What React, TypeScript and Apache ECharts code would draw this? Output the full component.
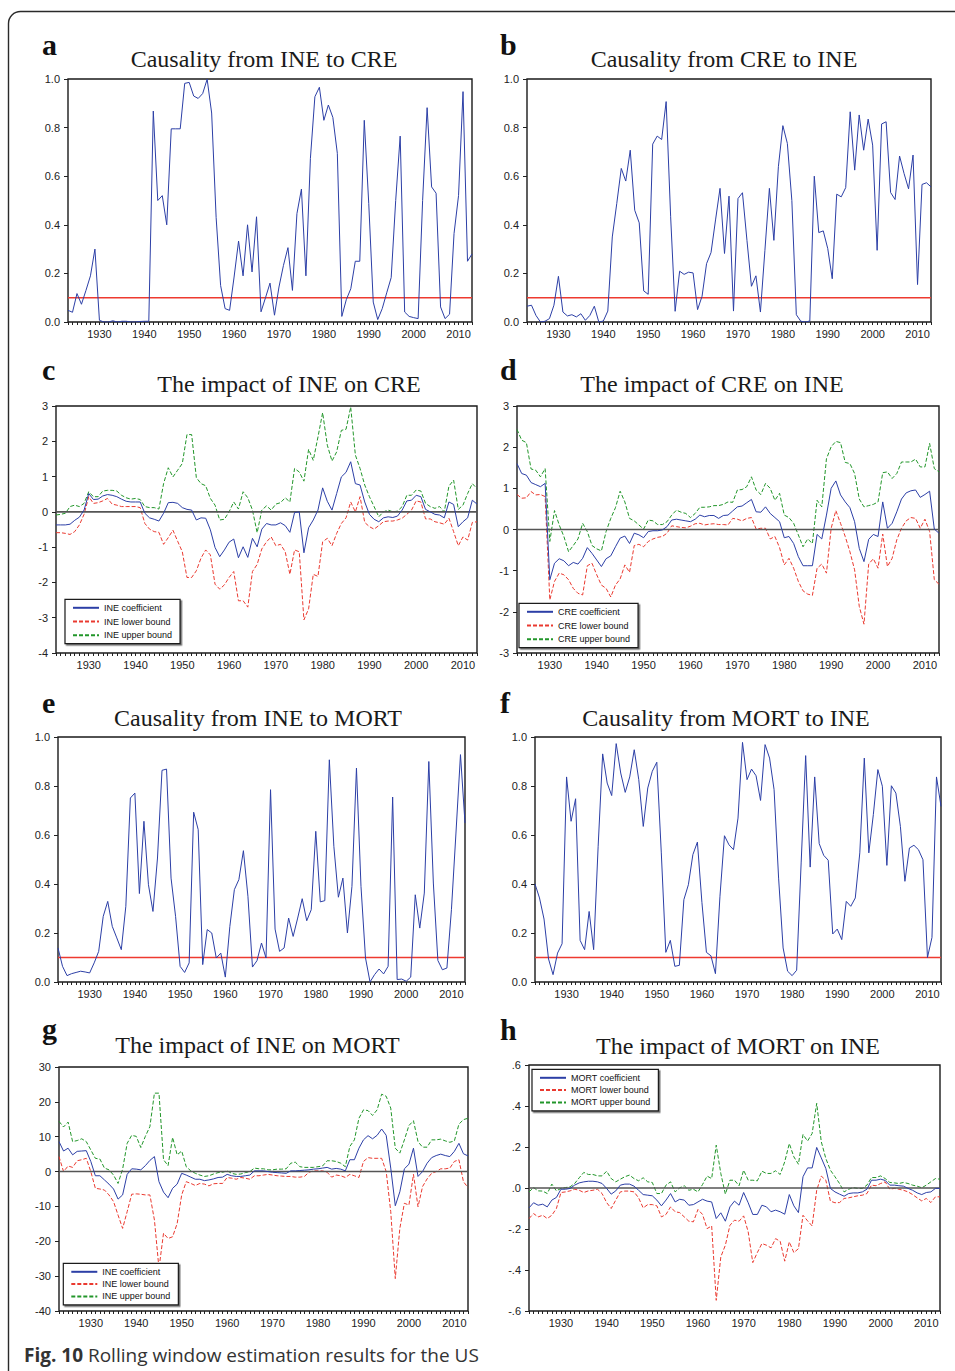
import { useEffect, useRef } from 'react';
import * as echarts from 'echarts';

const YEARS = [
  1923, 1924, 1925, 1926, 1927, 1928, 1929,
  1930, 1931, 1932, 1933, 1934, 1935, 1936, 1937, 1938, 1939,
  1940, 1941, 1942, 1943, 1944, 1945, 1946, 1947, 1948, 1949,
  1950, 1951, 1952, 1953, 1954, 1955, 1956, 1957, 1958, 1959,
  1960, 1961, 1962, 1963, 1964, 1965, 1966, 1967, 1968, 1969,
  1970, 1971, 1972, 1973, 1974, 1975, 1976, 1977, 1978, 1979,
  1980, 1981, 1982, 1983, 1984, 1985, 1986, 1987, 1988, 1989,
  1990, 1991, 1992, 1993, 1994, 1995, 1996, 1997, 1998, 1999,
  2000, 2001, 2002, 2003, 2004, 2005, 2006, 2007, 2008, 2009,
  2010, 2011, 2012, 2013,
].map(String);

// a: p-values, causality from INE to CRE
const A_INE_TO_CRE = [
  0.048, 0.04, 0.117, 0.073, 0.13, 0.19, 0.30,
  0.007, 0.0, 0.0, 0.005, 0.0, 0.003, 0.003, 0.0, 0.0, 0.002,
  0.003, 0.003, 0.868, 0.50, 0.52, 0.40, 0.795, 0.795, 0.795, 0.982,
  0.986, 0.93, 0.92, 0.94, 0.999, 0.86, 0.43, 0.15, 0.055, 0.048,
  0.185, 0.333, 0.19, 0.40, 0.206, 0.433, 0.042, 0.10, 0.16, 0.028,
  0.144, 0.233, 0.306, 0.13, 0.446, 0.547, 0.19, 0.673, 0.927, 0.966,
  0.83, 0.893, 0.842, 0.694, 0.023, 0.092, 0.137, 0.25, 0.25, 0.83,
  0.487, 0.082, 0.01, 0.055, 0.12, 0.183, 0.50, 0.765, 0.041, 0.023,
  0.018, 0.014, 0.50, 0.882, 0.556, 0.53, 0.062, 0.014, 0.032, 0.364,
  0.52, 0.948, 0.25, 0.28,
];

// b: p-values, causality from CRE to INE
const B_CRE_TO_INE = [
  0.065, 0.069, 0.027, 0.0, 0.003, 0.014, 0.069,
  0.188, 0.041, 0.025, 0.03, 0.021, 0.034, 0.007, 0.027, 0.065, 0.0,
  0.004, 0.045, 0.35, 0.488, 0.632, 0.58, 0.707, 0.46, 0.408, 0.128,
  0.114, 0.732, 0.765, 0.751, 0.907, 0.433, 0.044, 0.209, 0.196, 0.205,
  0.202, 0.051, 0.106, 0.24, 0.286, 0.42, 0.55, 0.282, 0.518, 0.045,
  0.508, 0.532, 0.336, 0.147, 0.19, 0.041, 0.295, 0.55, 0.336, 0.639,
  0.808, 0.735, 0.50, 0.03, 0.003, 0.0, 0.004, 0.60, 0.368, 0.375,
  0.302, 0.178, 0.526, 0.515, 0.553, 0.865, 0.625, 0.852, 0.707, 0.835,
  0.728, 0.295, 0.815, 0.824, 0.533, 0.504, 0.683, 0.611, 0.548, 0.687,
  0.154, 0.566, 0.573, 0.556,
];

// c: impact of INE on CRE
const C_COEF = [
  -0.37, -0.37, -0.37, -0.35, -0.24, -0.15, 0.05,
  0.52, 0.35, 0.36, 0.45, 0.49, 0.47, 0.43, 0.36, 0.30, 0.28,
  0.28, 0.28, -0.04, -0.17, -0.21, -0.26, -0.04, 0.26, 0.27, 0.24,
  0.12, 0.07, 0.05, -0.23, -0.17, -0.18, -0.51, -1.01, -1.27, -1.08,
  -0.86, -0.77, -1.30, -0.99, -1.29, -0.75, -0.99, -0.49, -0.33, -0.37,
  -0.37, -0.31, -0.39, -0.58, -0.02, 0.0, -1.16, -0.45, -0.23, 0.05,
  0.68, 0.30, 0.05, 0.52, 0.99, 1.12, 1.42, 0.80, 0.76, 0.28,
  -0.07, -0.21, -0.28, -0.17, -0.14, -0.16, -0.12, 0.05, 0.31, 0.33,
  0.47, 0.43, 0.07, 0.0, -0.07, -0.09, -0.17, 0.28, 0.21, -0.42,
  -0.28, -0.17, 0.33, 0.22,
];
const C_LOWER = [
  -0.59, -0.59, -0.61, -0.64, -0.56, -0.37, -0.07,
  0.43, 0.24, 0.26, 0.31, 0.38, 0.22, 0.19, 0.15, 0.15, 0.15,
  0.15, 0.12, -0.33, -0.49, -0.56, -0.58, -0.92, -0.73, -0.52, -0.83,
  -1.13, -1.86, -1.86, -1.67, -1.31, -1.08, -1.22, -2.05, -2.19, -2.07,
  -1.86, -1.69, -2.52, -2.52, -2.70, -1.69, -1.49, -1.05, -0.85, -0.71,
  -0.96, -0.92, -1.13, -1.77, -1.08, -1.13, -3.06, -2.75, -1.77, -1.83,
  -0.85, -0.75, -0.96, -0.61, -0.33, -0.17, 0.28, 0.0, 0.43, -0.30,
  -0.42, -0.49, -0.39, -0.28, -0.26, -0.26, -0.23, -0.18, -0.07, 0.05,
  0.31, 0.28, -0.20, -0.20, -0.28, -0.31, -0.35, -0.18, -0.56, -0.96,
  -0.71, -0.80, -0.30, -0.28,
];
const C_UPPER = [
  -0.09, -0.07, -0.04, 0.15, 0.19, 0.15, 0.24,
  0.57, 0.43, 0.43, 0.59, 0.61, 0.61, 0.59, 0.47, 0.40, 0.36,
  0.38, 0.35, 0.15, 0.12, 0.12, 0.08, 0.80, 1.25, 0.99, 1.18,
  1.37, 2.19, 2.19, 0.97, 0.80, 0.74, 0.38, 0.19, -0.23, -0.21,
  0.0, 0.28, 0.08, 0.57, 0.40, 0.05, -0.59, 0.05, 0.17, 0.05,
  0.22, 0.26, 0.40, 0.28, 1.23, 1.13, 0.87, 1.77, 1.46, 2.12,
  2.81, 1.89, 1.44, 1.70, 2.31, 2.34, 2.97, 1.61, 1.23, 0.76,
  0.43, 0.15, -0.14, 0.0, 0.05, 0.0, 0.02, 0.15, 0.47, 0.47,
  0.62, 0.59, 0.24, 0.15, 0.10, 0.15, 0.0, 0.73, 0.90, 0.07,
  0.19, 0.52, 0.80, 0.66,
];

// d: impact of CRE on INE
const D_COEF = [
  1.60, 1.36, 1.32, 1.14, 1.09, 1.04, 1.12,
  -1.22, -0.82, -0.71, -0.76, -0.88, -0.80, -0.84, -0.70, -0.44, -0.58,
  -0.74, -0.90, -0.71, -0.64, -0.42, -0.21, -0.16, -0.34, -0.09, -0.13,
  -0.20, -0.05, -0.03, -0.03, -0.01, 0.07, 0.23, 0.25, 0.23, 0.21,
  0.19, 0.25, 0.35, 0.31, 0.34, 0.34, 0.27, 0.34, 0.35, 0.45,
  0.55, 0.57, 0.65, 0.73, 0.43, 0.42, 0.55, 0.39, 0.29, 0.19,
  -0.20, -0.17, -0.34, -0.66, -0.88, -0.88, -0.88, -0.12, -0.23, 0.35,
  1.00, 1.18, 0.84, 0.67, 0.53, 0.19, -0.46, -0.78, -0.24, -0.12,
  -0.17, 0.67, 0.03, 0.15, 0.43, 0.74, 0.89, 0.94, 0.96, 0.78,
  0.85, 0.93, 0.01, -0.09,
];
const D_LOWER = [
  0.85, 0.76, 0.77, 0.92, 0.84, 0.85, 0.80,
  -1.71, -1.26, -1.06, -1.10, -1.22, -1.43, -1.55, -1.59, -0.88, -0.82,
  -1.10, -1.35, -1.43, -1.64, -1.35, -1.20, -0.86, -1.04, -0.39, -0.36,
  -0.42, -0.29, -0.23, -0.19, -0.17, -0.09, 0.09, 0.07, 0.05, 0.04,
  0.08, 0.14, 0.15, 0.11, 0.13, 0.14, 0.12, 0.12, 0.11, 0.27,
  0.25, 0.21, 0.27, 0.29, 0.01, 0.03, 0.03, -0.23, -0.17, -0.44,
  -0.86, -0.70, -0.94, -1.26, -1.49, -1.57, -1.60, -0.94, -0.84, -1.06,
  0.03, 0.46, 0.15, -0.17, -0.54, -0.98, -1.87, -2.30, -0.84, -0.71,
  -0.94, -0.11, -0.90, -0.70, -0.25, 0.03, 0.21, 0.29, 0.27, 0.03,
  0.25, -0.05, -1.22, -1.33,
];
const D_UPPER = [
  2.43, 2.17, 2.11, 1.47, 1.44, 1.28, 1.48,
  -0.29, 0.46, 0.11, -0.17, -0.54, -0.39, -0.23, 0.15, -0.05, -0.39,
  -0.47, -0.52, -0.05, 0.27, 0.53, 0.93, 0.67, 0.27, 0.21, 0.11,
  0.01, 0.23, 0.21, 0.12, 0.12, 0.19, 0.35, 0.47, 0.42, 0.39,
  0.29, 0.39, 0.54, 0.54, 0.55, 0.58, 0.58, 0.61, 0.67, 0.66,
  0.96, 0.97, 1.04, 1.28, 0.96, 0.85, 1.12, 1.00, 0.71, 0.88,
  0.35, 0.29, 0.15, -0.13, -0.42, -0.23, -0.34, 0.71, 0.55, 1.72,
  2.01, 2.14, 2.11, 1.63, 1.60, 1.36, 0.74, 0.55, 0.58, 0.61,
  0.67, 1.38, 1.40, 1.24, 1.36, 1.64, 1.64, 1.64, 1.71, 1.52,
  1.52, 2.09, 1.48, 1.40,
];

// e: p-values, causality from INE to MORT
const E_INE_TO_MORT = [
  0.139, 0.064, 0.026, 0.034, 0.039, 0.044, 0.041,
  0.037, 0.078, 0.125, 0.268, 0.329, 0.227, 0.18, 0.132, 0.309, 0.751,
  0.771, 0.361, 0.656, 0.397, 0.288, 0.506, 0.864, 0.869, 0.424, 0.268,
  0.064, 0.039, 0.078, 0.693, 0.622, 0.071, 0.214, 0.20, 0.098, 0.118,
  0.02, 0.227, 0.377, 0.418, 0.536, 0.35, 0.061, 0.087, 0.159, 0.098,
  0.785, 0.216, 0.125, 0.139, 0.261, 0.186, 0.261, 0.34, 0.25, 0.295,
  0.615, 0.327, 0.332, 0.907, 0.554, 0.346, 0.424, 0.20, 0.39, 0.873,
  0.39, 0.098, 0.0, 0.03, 0.053, 0.033, 0.064, 0.755, 0.01, 0.012,
  0.003, 0.02, 0.356, 0.22, 0.363, 0.90, 0.404, 0.088, 0.05, 0.057,
  0.295, 0.608, 0.928, 0.649,
];

// f: p-values, causality from MORT to INE
const F_MORT_TO_INE = [
  0.40, 0.343, 0.257, 0.094, 0.03, 0.118, 0.156,
  0.837, 0.656, 0.748, 0.17, 0.132, 0.288, 0.132, 0.554, 0.931, 0.812,
  0.761, 0.973, 0.853, 0.774, 0.837, 0.948, 0.826, 0.635, 0.792, 0.86,
  0.897, 0.527, 0.121, 0.17, 0.064, 0.068, 0.336, 0.397, 0.52, 0.571,
  0.325, 0.121, 0.107, 0.034, 0.35, 0.597, 0.56, 0.54, 0.669, 0.978,
  0.826, 0.869, 0.842, 0.741, 0.969, 0.914, 0.785, 0.424, 0.139, 0.044,
  0.026, 0.048, 0.486, 0.924, 0.469, 0.837, 0.565, 0.517, 0.497, 0.196,
  0.216, 0.173, 0.329, 0.309, 0.343, 0.527, 0.914, 0.527, 0.683, 0.867,
  0.799, 0.476, 0.801, 0.771, 0.635, 0.411, 0.547, 0.558, 0.54, 0.499,
  0.10, 0.182, 0.837, 0.717,
];

// g: impact of INE on MORT
const G_COEF = [
  8.6, 5.9, 6.7, 4.8, 5.8, 5.9, 6.0,
  2.9, -1.2, -1.2, -2.4, -3.6, -5.0, -7.9, -6.7, -0.8, 0.8,
  0.7, 0.5, 1.7, 3.2, 4.3, -2.9, -5.9, -7.5, -4.8, -3.6,
  -0.5, -1.0, -1.6, -2.2, -2.2, -2.6, -2.4, -2.1, -1.7, -1.6,
  -0.8, -1.2, -1.4, -1.4, -1.2, -1.0, 0.2, 0.2, 0.2, 0.0,
  -0.2, -0.3, -0.4, -0.5, 0.2, 0.2, 0.3, 0.4, 0.5, 0.7,
  0.8, 1.0, 1.2, 0.7, 0.9, 0.7, 0.2, 3.4, 3.4, 6.7,
  9.1, 10.3, 9.4, 10.4, 12.2, 10.4, 1.0, -9.8, -5.8, 0.8,
  2.1, 6.7, -1.4, 0.0, 2.4, 4.0, 4.6, 5.0, 4.6, 4.3,
  5.8, 8.1, 5.1, 4.5,
];
const G_LOWER = [
  4.3, 0.0, 1.6, 1.2, 3.1, 3.4, 3.8,
  0.0, -4.8, -5.0, -5.3, -6.7, -8.6, -12.5, -16.3, -11.5, -6.5,
  -6.4, -6.5, -6.7, -6.7, -13.9, -27.8, -17.7, -19.2, -18.7, -14.9,
  -6.7, -2.9, -3.4, -4.0, -3.4, -3.6, -4.1, -3.5, -3.4, -3.4,
  -1.7, -1.9, -2.2, -1.7, -1.9, -2.2, -1.2, -1.2, -1.0, -0.8,
  -1.0, -1.2, -1.3, -1.4, -1.4, -1.6, -1.6, -1.4, -0.2, 0.2,
  0.2, 0.2, -0.2, -1.6, -1.0, -1.2, -1.7, -0.8, -1.2, -1.7,
  2.9, 4.0, 3.8, 3.8, 3.8, 0.0, -11.5, -30.7, -16.3, -9.1,
  -9.6, -0.8, -10.1, -4.3, -2.1, -0.5, 0.0, 0.8, 0.8, 1.0,
  2.9, 3.4, -2.9, -4.6,
];
const G_UPPER = [
  14.4, 12.8, 14.2, 8.6, 8.9, 9.4, 8.6,
  6.2, 3.8, 3.6, 1.0, 0.5, -1.0, -3.4, 0.7, 8.1, 10.4,
  10.1, 6.9, 10.1, 12.9, 22.5, 22.5, 3.4, 1.7, 9.8, 4.8,
  5.9, 1.4, 0.2, -0.5, -1.0, -1.4, -1.2, -0.7, -0.3, -0.2,
  0.2, -0.5, -0.8, -0.7, -0.3, 0.0, 1.0, 0.8, 0.8, 0.5,
  0.5, 0.7, 0.7, 0.8, 2.4, 2.7, 1.4, 1.2, 1.2, 1.2,
  1.4, 1.6, 3.1, 3.1, 2.9, 2.4, 1.4, 7.2, 9.1, 15.3,
  17.7, 17.5, 16.1, 17.7, 22.2, 21.6, 18.2, 6.7, 5.3, 9.1,
  13.2, 14.6, 8.6, 7.0, 7.0, 9.1, 9.1, 9.3, 8.8, 8.4,
  8.8, 13.6, 14.9, 15.3,
];

// h: impact of MORT on INE
const H_COEF = [
  -0.097, -0.072, -0.084, -0.079, -0.092, -0.059, -0.046,
  -0.006, -0.006, -0.002, 0.014, 0.025, 0.03, 0.033, 0.033, 0.03, 0.022,
  -0.002, -0.03, -0.014, 0.014, 0.019, 0.019, 0.009, -0.011, -0.032, -0.035,
  -0.038, -0.059, -0.087, -0.059, -0.027, -0.068, -0.055, -0.059, -0.084, -0.081,
  -0.068, -0.055, -0.064, -0.068, -0.149, -0.121, -0.162, -0.092, -0.064, -0.084,
  -0.022, -0.072, -0.129, -0.129, -0.084, -0.092, -0.116, -0.108, -0.116, -0.128,
  -0.032, -0.087, -0.12, 0.055, 0.098, 0.098, 0.198, 0.147, 0.095, -0.002,
  -0.019, -0.03, -0.04, -0.027, -0.024, -0.024, -0.019, -0.006, 0.038, 0.038,
  0.043, 0.037, 0.014, 0.014, 0.011, 0.009, -0.002, -0.011, -0.024, -0.032,
  -0.022, -0.019, -0.002, -0.002,
];
const H_LOWER = [
  -0.149, -0.125, -0.141, -0.133, -0.149, -0.133, -0.1,
  -0.022, -0.019, -0.014, -0.006, -0.011, -0.022, -0.014, -0.011, -0.006, -0.027,
  -0.071, -0.1, -0.059, -0.019, -0.015, -0.015, -0.019, -0.048, -0.097, -0.081,
  -0.081, -0.087, -0.141, -0.129, -0.092, -0.116, -0.12, -0.141, -0.162, -0.165,
  -0.105, -0.129, -0.198, -0.185, -0.548, -0.336, -0.279, -0.182, -0.157, -0.162,
  -0.136, -0.214, -0.364, -0.315, -0.271, -0.279, -0.292, -0.247, -0.26, -0.357,
  -0.263, -0.315, -0.296, -0.133, -0.16, -0.185, -0.011, 0.058, 0.038, -0.064,
  -0.072, -0.071, -0.051, -0.048, -0.043, -0.038, -0.035, -0.027, 0.014, 0.011,
  0.022, 0.03, -0.006, -0.002, -0.006, -0.011, -0.019, -0.032, -0.048, -0.063,
  -0.051, -0.071, -0.043, -0.043,
];
const H_UPPER = [
  -0.019, 0.002, -0.014, -0.015, -0.027, 0.019, -0.014,
  -0.002, 0.002, 0.006, 0.022, 0.05, 0.076, 0.066, 0.066, 0.059, 0.059,
  0.082, 0.046, 0.03, 0.043, 0.055, 0.063, 0.046, 0.035, 0.05, 0.03,
  0.027, -0.027, -0.027, 0.014, 0.03, -0.019, 0.001, 0.011, -0.011, -0.006,
  -0.019, 0.017, 0.058, 0.046, 0.209, 0.071, -0.03, 0.038, 0.038, 0.011,
  0.087, 0.038, 0.038, 0.035, 0.082, 0.071, 0.071, 0.084, 0.066, 0.128,
  0.217, 0.152, 0.116, 0.261, 0.229, 0.266, 0.413, 0.226, 0.144, 0.087,
  0.055, 0.022, -0.019, -0.006, 0.002, -0.002, -0.002, 0.014, 0.051, 0.051,
  0.059, 0.046, 0.027, 0.025, 0.022, 0.027, 0.022, 0.014, 0.009, 0.001,
  0.014, 0.03, 0.046, 0.043,
];

const THRESHOLD = 0.1;
const ZERO = 0;

const BLUE = '#2c3fa6';
const RED = '#ea3a30';
const GREEN = '#22962a';
const THRESH_RED = '#ee3a30';
const ZERO_GRAY = '#555555';
const SANS = '"Liberation Sans", Arial, sans-serif';
const SERIF = '"Liberation Serif", "Times New Roman", serif';

const fmt1 = (v: number) => v.toFixed(1);
const fmtInt = (v: number) => String(Math.round(v));
const fmtDot = (v: number) => {
  const s = (Math.round(v * 10) / 10).toFixed(1);
  return s.replace('0.', '.');
};

type Panel = {
  letter: string;
  title: string;
  kind: 'pvalue' | 'impact';
  variable?: string;
  values: number[][];
  yMin: number;
  yMax: number;
  yStep: number;
  fmt: (v: number) => string;
  grid: { left: number; top: number; width: number; height: number };
  titleX: number;
  titleY: number;
  letterX: number;
  letterY: number;
  legend?: { left: number; top: number; gap: number };
};

const PANELS: Panel[] = [
  {
    letter: 'a', title: 'Causality from INE to CRE', kind: 'pvalue', values: [A_INE_TO_CRE],
    yMin: 0, yMax: 1, yStep: 0.2, fmt: fmt1,
    grid: { left: 68, top: 79, width: 404, height: 243 },
    titleX: 264, titleY: 58.6, letterX: 42, letterY: 44.9,
  },
  {
    letter: 'b', title: 'Causality from CRE to INE', kind: 'pvalue', values: [B_CRE_TO_INE],
    yMin: 0, yMax: 1, yStep: 0.2, fmt: fmt1,
    grid: { left: 527, top: 79, width: 404, height: 243 },
    titleX: 724, titleY: 58.6, letterX: 500, letterY: 44.9,
  },
  {
    letter: 'c', title: 'The impact of INE on CRE', kind: 'impact', variable: 'INE',
    values: [C_COEF, C_LOWER, C_UPPER],
    yMin: -4, yMax: 3, yStep: 1, fmt: fmtInt,
    grid: { left: 56, top: 406, width: 421, height: 247 },
    titleX: 289, titleY: 384.2, letterX: 42, letterY: 369.9,
    legend: { left: 65, top: 599.3, gap: 4.7 },
  },
  {
    letter: 'd', title: 'The impact of CRE on INE', kind: 'impact', variable: 'CRE',
    values: [D_COEF, D_LOWER, D_UPPER],
    yMin: -3, yMax: 3, yStep: 1, fmt: fmtInt,
    grid: { left: 517, top: 406, width: 422, height: 247 },
    titleX: 712, titleY: 384.2, letterX: 500, letterY: 369.9,
    legend: { left: 519, top: 603.3, gap: 4.7 },
  },
  {
    letter: 'e', title: 'Causality from INE to MORT', kind: 'pvalue', values: [E_INE_TO_MORT],
    yMin: 0, yMax: 1, yStep: 0.2, fmt: fmt1,
    grid: { left: 58, top: 737, width: 407, height: 245 },
    titleX: 258, titleY: 717.6, letterX: 42, letterY: 702.9,
  },
  {
    letter: 'f', title: 'Causality from MORT to INE', kind: 'pvalue', values: [F_MORT_TO_INE],
    yMin: 0, yMax: 1, yStep: 0.2, fmt: fmt1,
    grid: { left: 535, top: 737, width: 406, height: 245 },
    titleX: 726, titleY: 717.9, letterX: 500, letterY: 702.9,
  },
  {
    letter: 'g', title: 'The impact of INE on MORT', kind: 'impact', variable: 'INE',
    values: [G_COEF, G_LOWER, G_UPPER],
    yMin: -40, yMax: 30, yStep: 10, fmt: fmtInt,
    grid: { left: 59, top: 1067, width: 409, height: 244 },
    titleX: 257.5, titleY: 1045.2, letterX: 42, letterY: 1028.7,
    legend: { left: 63.3, top: 1263.3, gap: 3.3 },
  },
  {
    letter: 'h', title: 'The impact of MORT on INE', kind: 'impact', variable: 'MORT',
    values: [H_COEF, H_LOWER, H_UPPER],
    yMin: -0.6, yMax: 0.6, yStep: 0.2, fmt: fmtDot,
    grid: { left: 529, top: 1065, width: 411, height: 246 },
    titleX: 738, titleY: 1045.9, letterX: 500, letterY: 1029.9,
    legend: { left: 532, top: 1069.3, gap: 3.3 },
  },
];

// A horizontal reference line drawn as a two-point line series on the panel's own axes.
function refSeries(i: number, value: number, color: string, width: number, z: number) {
  return {
    type: 'line',
    name: `ref-${i}`,
    xAxisIndex: i,
    yAxisIndex: i,
    data: [
      [YEARS[0], value],
      [YEARS[YEARS.length - 1], value],
    ],
    symbol: 'none',
    silent: true,
    color,
    lineStyle: { color, width, type: 'solid', opacity: 1 },
    itemStyle: { color },
    emphasis: { disabled: true },
    tooltip: { show: false },
    z,
  };
}

function buildOption() {
  const grid: any[] = [];
  const xAxis: any[] = [];
  const yAxis: any[] = [];
  const series: any[] = [];
  const legend: any[] = [];
  const graphic: any[] = [];

  graphic.push({
    type: 'rect',
    silent: true,
    z: 0,
    shape: { x: 8.5, y: 11.5, width: 1200, height: 1450, r: 12 },
    style: { fill: 'none', stroke: '#2a2a2a', lineWidth: 1.4 },
  });

  PANELS.forEach((p, i) => {
    grid.push({
      ...p.grid,
      show: true,
      borderColor: '#1a1a1a',
      borderWidth: 1.4,
      backgroundColor: 'transparent',
      containLabel: false,
    });
    xAxis.push({
      type: 'category',
      gridIndex: i,
      data: YEARS,
      boundaryGap: false,
      axisLine: { show: false, onZero: false },
      axisTick: { show: true, interval: 0, length: 3, lineStyle: { color: '#222', width: 1 } },
      axisLabel: {
        interval: (_idx: number, val: string) => Number(val) % 10 === 0,
        fontSize: 11,
        fontFamily: SANS,
        color: '#222',
        margin: 6,
      },
      splitLine: { show: false },
    });
    yAxis.push({
      type: 'value',
      gridIndex: i,
      min: p.yMin,
      max: p.yMax,
      interval: p.yStep,
      axisLine: { show: false, onZero: false },
      axisTick: { show: true, length: 4, lineStyle: { color: '#222', width: 1 } },
      axisLabel: {
        fontSize: 11,
        fontFamily: SANS,
        color: '#222',
        margin: 8,
        formatter: p.fmt,
      },
      splitLine: { show: false },
    });

    if (p.kind === 'pvalue') {
      series.push(refSeries(i, THRESHOLD, THRESH_RED, 1.6, 2));
      series.push({
        type: 'line',
        name: p.title,
        xAxisIndex: i,
        yAxisIndex: i,
        data: p.values[0],
        symbol: 'none',
        color: BLUE,
        lineStyle: { color: BLUE, width: 1 },
        itemStyle: { color: BLUE },
        emphasis: { disabled: true },
        z: 3,
      });
    } else {
      const v = p.variable as string;
      const names = [`${v} coefficient`, `${v} lower bound`, `${v} upper bound`];
      series.push({
        type: 'line',
        name: names[1],
        xAxisIndex: i,
        yAxisIndex: i,
        data: p.values[1],
        symbol: 'none',
        color: RED,
        lineStyle: { color: RED, width: 1, type: [4, 2] },
        itemStyle: { color: RED },
        emphasis: { disabled: true },
        z: 2,
      });
      series.push({
        type: 'line',
        name: names[2],
        xAxisIndex: i,
        yAxisIndex: i,
        data: p.values[2],
        symbol: 'none',
        color: GREEN,
        lineStyle: { color: GREEN, width: 1, type: [4, 2] },
        itemStyle: { color: GREEN },
        emphasis: { disabled: true },
        z: 2,
      });
      series.push(refSeries(i, ZERO, ZERO_GRAY, 1.6, 3));
      series.push({
        type: 'line',
        name: names[0],
        xAxisIndex: i,
        yAxisIndex: i,
        data: p.values[0],
        symbol: 'none',
        color: BLUE,
        lineStyle: { color: BLUE, width: 1 },
        itemStyle: { color: BLUE },
        emphasis: { disabled: true },
        z: 4,
      });
      if (p.legend) {
        legend.push({
          data: names,
          orient: 'vertical',
          left: p.legend.left,
          top: p.legend.top,
          itemWidth: 26,
          itemHeight: 8,
          itemGap: p.legend.gap,
          padding: [4, 8, 4, 7],
          borderColor: '#1a1a1a',
          borderWidth: 1.2,
          backgroundColor: '#fff',
          shadowColor: 'rgba(0,0,0,0.55)',
          shadowOffsetX: 1.5,
          shadowOffsetY: 1.5,
          shadowBlur: 0,
          selectedMode: false,
          itemStyle: { opacity: 0, borderWidth: 0 },
          textStyle: { fontSize: 9, fontFamily: SANS, color: '#111' },
        });
      }
    }

    graphic.push({
      type: 'text',
      silent: true,
      x: p.titleX,
      y: p.titleY,
      style: {
        text: p.title,
        font: `24px ${SERIF}`,
        fill: '#1a1a1a',
        align: 'center',
        textAlign: 'center',
        verticalAlign: 'middle',
        textVerticalAlign: 'middle',
      },
    });
    graphic.push({
      type: 'text',
      silent: true,
      x: p.letterX,
      y: p.letterY,
      style: {
        text: p.letter,
        font: `bold 30px ${SERIF}`,
        fill: '#111',
        align: 'left',
        textAlign: 'left',
        verticalAlign: 'middle',
        textVerticalAlign: 'middle',
      },
    });
  });

  graphic.push({
    type: 'text',
    silent: true,
    x: 24,
    y: 1355,
    style: {
      text: '{b|Fig. 10} Rolling window estimation results for the US',
      font: `19px "Open Sans", "Noto Sans", sans-serif`,
      fill: '#333',
      align: 'left',
      textAlign: 'left',
      verticalAlign: 'middle',
      textVerticalAlign: 'middle',
      rich: {
        b: {
          fontWeight: 'bold',
          fontSize: 19,
          fontFamily: '"Open Sans", "Noto Sans", sans-serif',
          fill: '#333',
          color: '#333',
        },
      },
    },
  });

  return {
    animation: false,
    backgroundColor: '#ffffff',
    grid,
    xAxis,
    yAxis,
    series,
    legend,
    graphic,
  };
}

export default function App() {
  const ref = useRef<HTMLDivElement>(null);

  useEffect(() => {
    if (!ref.current) return;
    const chart = echarts.init(ref.current, null, { renderer: 'svg', width: 955, height: 1371 });
    chart.setOption(buildOption() as any);
    return () => {
      chart.dispose();
    };
  }, []);

  return (
    <div
      ref={ref}
      style={{ position: 'absolute', left: 0, top: 0, width: 955, height: 1371, background: '#fff' }}
    />
  );
}
